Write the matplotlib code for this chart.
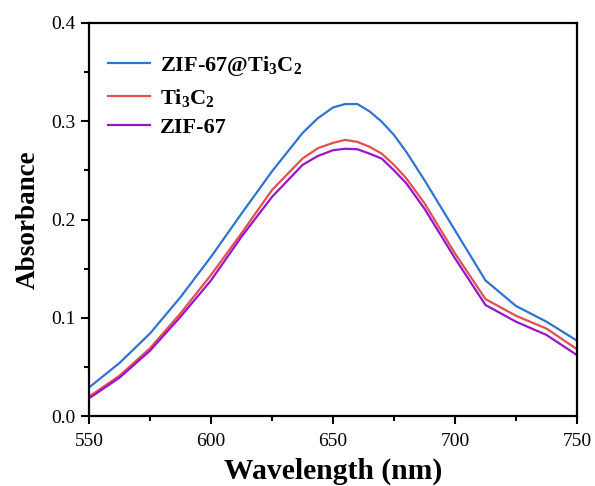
import matplotlib
matplotlib.use("Agg")
import matplotlib.pyplot as plt
from matplotlib.ticker import MultipleLocator

plt.rcParams['font.family'] = 'Liberation Serif'
plt.rcParams['mathtext.default'] = 'regular'

wavelength = [550, 562.5, 575, 587.5, 600, 612.5, 625, 637.5, 643.75, 650, 655, 660, 665, 670,
              675, 680, 687.5, 700, 712.5, 725, 737.5, 750]

zif_ti3c2 = [0.029, 0.054, 0.084, 0.121, 0.162, 0.206, 0.249, 0.288, 0.303, 0.314, 0.3175, 0.3175,
             0.310, 0.2995, 0.286, 0.269, 0.240, 0.189, 0.138, 0.112, 0.096, 0.0767]
ti3c2 = [0.0197, 0.041, 0.069, 0.1045, 0.1435, 0.186, 0.230, 0.262, 0.2725, 0.278, 0.281, 0.279,
         0.274, 0.267, 0.2555, 0.242, 0.2165, 0.1655, 0.119, 0.102, 0.089, 0.068]
zif67 = [0.018, 0.039, 0.0665, 0.101, 0.138, 0.1825, 0.223, 0.2555, 0.2646, 0.2705, 0.272, 0.2715,
         0.267, 0.262, 0.250, 0.237, 0.211, 0.1605, 0.113, 0.096, 0.0825, 0.062]

fig = plt.figure(figsize=(5.95, 4.86), dpi=100)
ax = fig.add_axes([0.1496, 0.144, 0.8201, 0.8087])

ax.plot(wavelength, zif_ti3c2, color='#2f74d0', lw=1.6, label='ZIF-67@Ti$_3$C$_2$')
ax.plot(wavelength, ti3c2, color='#e0504f', lw=1.6, label='Ti$_3$C$_2$')
ax.plot(wavelength, zif67, color='#9a14c8', lw=1.6, label='ZIF-67')

ax.set_xlim(550, 750)
ax.set_ylim(0, 0.4)
ax.xaxis.set_major_locator(MultipleLocator(50))
ax.xaxis.set_minor_locator(MultipleLocator(25))
ax.yaxis.set_major_locator(MultipleLocator(0.1))
ax.yaxis.set_minor_locator(MultipleLocator(0.05))
ax.tick_params(which='major', direction='out', length=6, width=1.5, labelsize=14)
ax.tick_params(which='minor', direction='out', length=3.5, width=1.5)
ax.tick_params(axis='x', which='major', pad=6.5)
ax.tick_params(top=False, right=False)
for s in ax.spines.values():
    s.set_linewidth(1.6)

ax.set_xlabel('Wavelength (nm)', fontsize=21.3, fontweight='bold', labelpad=5)
ax.set_ylabel('Absorbance', fontsize=19.5, fontweight='bold', labelpad=8)

leg = ax.legend(loc='upper left', frameon=False, prop={'weight': 'bold', 'size': 16},
                handlelength=1.9, handletextpad=0.45, borderpad=0, borderaxespad=0,
                bbox_to_anchor=(0.039, 0.922), labelspacing=0.4)

fig.savefig('out.png', dpi=100)
